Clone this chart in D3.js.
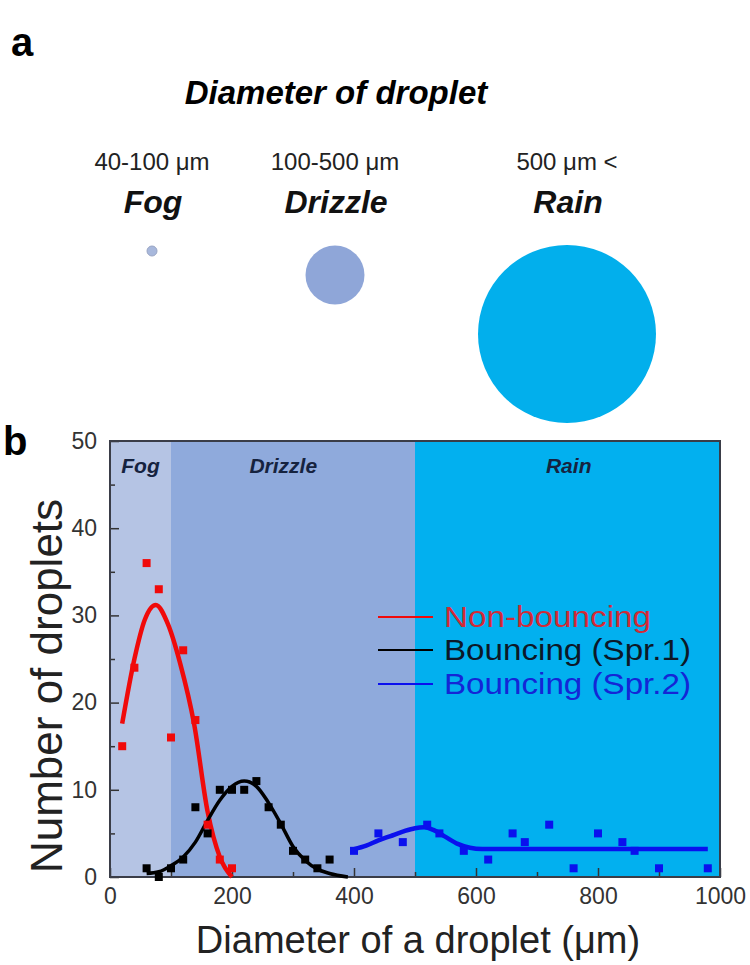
<!DOCTYPE html>
<html>
<head>
<meta charset="utf-8">
<script src="https://cdn.jsdelivr.net/npm/d3@7"></script>
<style>
  body { margin: 0; background: #fff; }
  text { font-family: "Liberation Sans", Arial, sans-serif; }
</style>
</head>
<body>
<script>
//properties of the screen
var widthScr = 750;
var heightScr = 965;

//droplet classes (panel a and the shaded bands of panel b)
var classNames = ["Fog", "Drizzle", "Rain"];
var classRanges = ["40-100 \u03bcm", "100-500 \u03bcm", "500 \u03bcm <"];
var classEdges = [0, 100, 500, 1000];

//measured droplets (panel b)
var nonBounceX = [20, 40, 60, 80, 100, 120, 140, 160, 180, 200];
var nonBounceY = [15, 24, 36, 33, 16, 26, 18, 6, 2, 1];
var spr1X = [60, 80, 100, 120, 140, 160, 180, 200, 220, 240, 260, 280, 300, 320, 340, 360];
var spr1Y = [1, 0, 1, 2, 8, 5, 10, 10, 10, 11, 8, 6, 3, 2, 1, 2];
var spr2X = [400, 440, 480, 520, 540, 580, 620, 660, 680, 720, 760, 800, 840, 860, 900, 980];
var spr2Y = [3, 5, 4, 6, 5, 3, 2, 5, 4, 6, 1, 5, 4, 3, 1, 1];

//fitted curves
var nonBounceFitX = [20, 40, 57, 75, 95, 115, 138, 160, 180, 200];
var nonBounceFitY = [17.6, 25, 29.5, 31.2, 29, 24.5, 17.5, 7.5, 2.3, 0];
var spr1FitX = [60, 80, 100, 120, 140, 160, 180, 200, 220, 240, 260, 280, 300, 320, 340, 360, 390];
var spr1FitY = [0.4, 0.6, 1.3, 2.3, 4, 6.5, 8.8, 10.4, 11, 10.4, 8.5, 6.1, 3.5, 1.9, 0.9, 0.4, 0];
var spr2FitX = [400, 420, 440, 460, 480, 500, 515, 530, 550, 570, 590, 610, 700, 800, 900, 980];
var spr2FitY = [3.2, 3.6, 4.2, 4.7, 5.2, 5.6, 5.7, 5.4, 4.6, 3.8, 3.35, 3.2, 3.2, 3.2, 3.2, 3.2];

//axes
var xTicks = [0, 200, 400, 600, 800, 1000];
var xMinor = [100, 300, 500, 700, 900];
var yTicks = [0, 10, 20, 30, 40, 50];
var yMinor = [5, 15, 25, 35, 45];

var seriesNames = ["Non-bouncing", "Bouncing (Spr.1)", "Bouncing (Spr.2)"];

//layout and styles
var bandColors = ["#b5c4e4", "#8faadc", "#02b0ef"];
var dropColors = ["#a8b8dc", "#8fa6d8", "#02afec"];
var dropCx = [152, 335, 567];
var dropCy = [251, 275, 334];
var dropR = [5, 29.5, 89];
var seriesColors = ["#f00a0a", "#000000", "#0a10ee"];
var legendText = ["#d22a36", "#0c1828", "#1426d6"];
var legendWidth = [207, 247, 247];
var plot = { left: 110, right: 720, top: 441, bottom: 877 };

var canvas, x, y;

function start() {
    createScreen();
    drawPanelA();
    drawPanelB();
}

function createScreen() {
    canvas = d3.select("body").append("svg")
        .attr("width", widthScr)
        .attr("height", heightScr);
    canvas.append("rect")
        .attr("width", widthScr)
        .attr("height", heightScr)
        .attr("fill", "#fff");
}

//schematic of the three droplet classes
function drawPanelA() {
    canvas.append("text")
        .attr("x", 11).attr("y", 56)
        .attr("font-size", 40).attr("font-weight", "bold")
        .text("a");

    canvas.append("text")
        .attr("x", 336).attr("y", 104)
        .attr("text-anchor", "middle")
        .attr("font-size", 33).attr("font-weight", "bold").attr("font-style", "italic")
        .text("Diameter of droplet");

    var g = canvas.append("g");
    g.selectAll(".range").data(classRanges).enter().append("text")
        .attr("class", "range")
        .attr("x", function(d, i) { return dropCx[i]; })
        .attr("y", 170)
        .attr("text-anchor", "middle")
        .attr("font-size", 24)
        .attr("fill", "#222")
        .text(function(d) { return d; });

    g.selectAll(".name").data(classNames).enter().append("text")
        .attr("class", "name")
        .attr("x", function(d, i) { return dropCx[i] + 1; })
        .attr("y", 213)
        .attr("text-anchor", "middle")
        .attr("font-size", 32).attr("font-weight", "bold").attr("font-style", "italic")
        .attr("fill", "#111")
        .text(function(d) { return d; });

    g.selectAll("circle").data(classNames).enter().append("circle")
        .attr("cx", function(d, i) { return dropCx[i]; })
        .attr("cy", function(d, i) { return dropCy[i]; })
        .attr("r", function(d, i) { return dropR[i]; })
        .attr("fill", function(d, i) { return dropColors[i]; })
        .attr("stroke", function(d, i) { return i === 0 ? "#9aa6c4" : "none"; })
        .attr("stroke-width", 1);
}

//droplet count vs diameter
function drawPanelB() {
    x = d3.scaleLinear().domain([0, 1000]).range([plot.left, plot.right]);
    y = d3.scaleLinear().domain([0, 50]).range([plot.bottom, plot.top]);

    canvas.append("text")
        .attr("x", 3).attr("y", 455)
        .attr("font-size", 40).attr("font-weight", "bold")
        .text("b");

    //shaded bands
    var bands = classNames.map(function(n, i) {
        return { name: n, x0: classEdges[i], x1: classEdges[i + 1] };
    });
    canvas.selectAll(".band").data(bands).enter().append("rect")
        .attr("class", "band")
        .attr("x", function(d) { return x(d.x0); })
        .attr("y", plot.top)
        .attr("width", function(d) { return x(d.x1) - x(d.x0); })
        .attr("height", plot.bottom - plot.top)
        .attr("fill", function(d, i) { return bandColors[i]; });

    var labelX = [50, 284, 752];
    canvas.selectAll(".bandLabel").data(bands).enter().append("text")
        .attr("class", "bandLabel")
        .attr("x", function(d, i) { return x(labelX[i]); })
        .attr("y", 473)
        .attr("text-anchor", "middle")
        .attr("font-size", 21).attr("font-weight", "bold").attr("font-style", "italic")
        .attr("fill", "#16233f")
        .text(function(d) { return d.name; });

    //axes, ticks pointing inwards
    var xAxis = d3.axisBottom(x).tickValues(xTicks).tickFormat(d3.format("d"))
        .tickSizeInner(-9).tickSizeOuter(0).tickPadding(11);
    var xAxisMinor = d3.axisBottom(x).tickValues(xMinor).tickSizeInner(-5).tickSizeOuter(0).tickFormat("");
    var yAxis = d3.axisLeft(y).tickValues(yTicks).tickFormat(d3.format("d"))
        .tickSizeInner(-9).tickSizeOuter(0).tickPadding(13);
    var yAxisMinor = d3.axisLeft(y).tickValues(yMinor).tickSizeInner(-5).tickSizeOuter(0).tickFormat("");

    [
        canvas.append("g").attr("transform", "translate(0," + plot.bottom + ")").call(xAxis),
        canvas.append("g").attr("transform", "translate(0," + plot.bottom + ")").call(xAxisMinor),
        canvas.append("g").attr("transform", "translate(" + plot.left + ",0)").call(yAxis),
        canvas.append("g").attr("transform", "translate(" + plot.left + ",0)").call(yAxisMinor)
    ].forEach(function(ax) {
        ax.select(".domain").remove();
        ax.selectAll("line").attr("stroke", "#333").attr("stroke-width", 1.5);
        ax.selectAll("text")
            .attr("font-size", 23)
            .attr("fill", "#333")
            .style("font-family", "'Liberation Sans', Arial, sans-serif");
    });

    //frame
    canvas.append("rect")
        .attr("x", plot.left).attr("y", plot.top)
        .attr("width", plot.right - plot.left)
        .attr("height", plot.bottom - plot.top)
        .attr("fill", "none")
        .attr("stroke", "#3a3d48")
        .attr("stroke-width", 2);

    //fits
    var fits = [
        { xs: nonBounceFitX, ys: nonBounceFitY, w: 4.5 },
        { xs: spr1FitX, ys: spr1FitY, w: 3.5 },
        { xs: spr2FitX, ys: spr2FitY, w: 4.5 }
    ];
    var line = d3.line()
        .x(function(d) { return x(d[0]); })
        .y(function(d) { return y(d[1]); })
        .curve(d3.curveMonotoneX);
    canvas.selectAll(".fit").data(fits).enter().append("path")
        .attr("class", "fit")
        .attr("d", function(d) { return line(d3.zip(d.xs, d.ys)); })
        .attr("fill", "none")
        .attr("stroke", function(d, i) { return seriesColors[i]; })
        .attr("stroke-width", function(d) { return d.w; })
        .attr("stroke-linejoin", "round");

    //points
    var series = [
        d3.zip(nonBounceX, nonBounceY),
        d3.zip(spr1X, spr1Y),
        d3.zip(spr2X, spr2Y)
    ];
    var sq = 8;
    series.forEach(function(pts, i) {
        canvas.append("g").selectAll("rect").data(pts).enter().append("rect")
            .attr("x", function(d) { return x(d[0]) - sq / 2; })
            .attr("y", function(d) { return y(d[1]) - sq / 2; })
            .attr("width", sq)
            .attr("height", sq)
            .attr("fill", seriesColors[i]);
    });

    //legend (text is a bit wide in the original, so stretch it)
    var leg = canvas.append("g");
    var legY = [617, 650, 684];
    leg.selectAll("line").data(seriesNames).enter().append("line")
        .attr("x1", 378).attr("x2", 433)
        .attr("y1", function(d, i) { return legY[i]; })
        .attr("y2", function(d, i) { return legY[i]; })
        .attr("stroke", function(d, i) { return seriesColors[i]; })
        .attr("stroke-width", 2);
    leg.selectAll("text").data(seriesNames).enter().append("text")
        .attr("x", 444)
        .attr("y", function(d, i) { return legY[i]; })
        .attr("dy", "0.36em")
        .attr("font-size", 29)
        .attr("textLength", function(d, i) { return legendWidth[i]; })
        .attr("lengthAdjust", "spacingAndGlyphs")
        .attr("fill", function(d, i) { return legendText[i]; })
        .text(function(d) { return d; });

    //axis titles
    canvas.append("text")
        .attr("x", (plot.left + plot.right) / 2 + 3).attr("y", 953)
        .attr("text-anchor", "middle")
        .attr("font-size", 38)
        .attr("fill", "#222")
        .text("Diameter of a droplet (\u03bcm)");

    canvas.append("text")
        .attr("transform", "translate(46,686) rotate(-90)")
        .attr("text-anchor", "middle")
        .attr("dy", "0.36em")
        .attr("font-size", 44)
        .attr("fill", "#222")
        .text("Number of droplets");
}

start();
</script>
</body>
</html>
